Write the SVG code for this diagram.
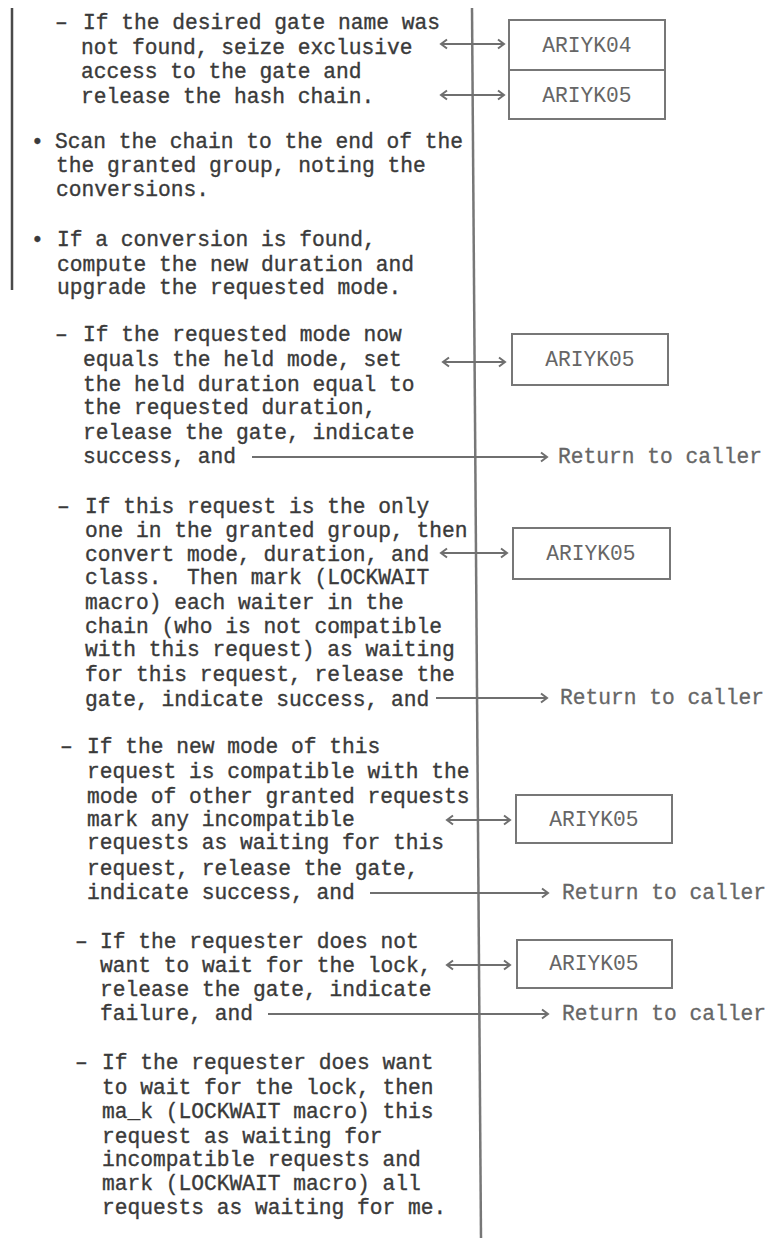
<svg xmlns="http://www.w3.org/2000/svg" width="771" height="1241" viewBox="0 0 771 1241">
  <style>
    text { white-space: pre; }
    .t { font-family: "Liberation Mono", "DejaVu Sans Mono", monospace; font-size: 21.25px; fill: #3a3a3a; stroke: #3a3a3a; stroke-width: 0.35px; }
    .bx { font-family: "Liberation Mono", "DejaVu Sans Mono", monospace; font-size: 21.25px; fill: #666; text-anchor: middle; }
    .rt { font-family: "Liberation Mono", "DejaVu Sans Mono", monospace; font-size: 21.25px; fill: #666; stroke: #666; stroke-width: 0.3px; }
    .box { fill: #fff; stroke: #777; stroke-width: 2; }
    .dbl { stroke: #6f6f6f; stroke-width: 2; fill: none; marker-start: url(#chev); marker-end: url(#chev); }
    .ret { stroke: #6f6f6f; stroke-width: 2; fill: none; marker-end: url(#chev); }
  </style>
  <defs>
    <marker id="chev" markerUnits="userSpaceOnUse" markerWidth="12" markerHeight="12" refX="9" refY="6" orient="auto-start-reverse">
      <path d="M3,1.5 L9,6 L3,10.5" fill="none" stroke="#6f6f6f" stroke-width="2"/>
    </marker>
  </defs>
  <rect width="771" height="1241" fill="#fff"/>

  <!-- spine and margin bar -->
  <g id="rules">
    <line x1="12" y1="8" x2="12" y2="290" stroke="#4a4a4a" stroke-width="2.5"/>
    <line x1="472" y1="8" x2="481" y2="1238" stroke="#777" stroke-width="2.5"/>
  </g>

  <g id="step-seize-gate">
    <text class="t" x="55" y="29">–</text>
    <text class="t" x="83" y="29">If the desired gate name was</text>
    <text class="t" x="81" y="54">not found, seize exclusive</text>
    <text class="t" x="81" y="78">access to the gate and</text>
    <text class="t" x="81" y="103">release the hash chain.</text>
  </g>

  <g id="step-scan-chain">
    <text class="t" x="31" y="148">•</text>
    <text class="t" x="55" y="148">Scan the chain to the end of the</text>
    <text class="t" x="56" y="172">the granted group, noting the</text>
    <text class="t" x="56" y="196">conversions.</text>
  </g>

  <g id="step-conversion">
    <text class="t" x="31" y="246">•</text>
    <text class="t" x="57" y="246">If a conversion is found,</text>
    <text class="t" x="57" y="271">compute the new duration and</text>
    <text class="t" x="57" y="294">upgrade the requested mode.</text>
  </g>

  <g id="case-equal-mode">
    <text class="t" x="55" y="341">–</text>
    <text class="t" x="83" y="341">If the requested mode now</text>
    <text class="t" x="83" y="366">equals the held mode, set</text>
    <text class="t" x="83" y="391">the held duration equal to</text>
    <text class="t" x="83" y="414">the requested duration,</text>
    <text class="t" x="83" y="439">release the gate, indicate</text>
    <text class="t" x="83" y="463">success, and</text>
  </g>

  <g id="case-only-request">
    <text class="t" x="57" y="513">–</text>
    <text class="t" x="85" y="513">If this request is the only</text>
    <text class="t" x="85" y="537">one in the granted group, then</text>
    <text class="t" x="85" y="561">convert mode, duration, and</text>
    <text class="t" x="85" y="584">class.  Then mark (LOCKWAIT</text>
    <text class="t" x="85" y="609">macro) each waiter in the</text>
    <text class="t" x="85" y="633">chain (who is not compatible</text>
    <text class="t" x="85" y="656">with this request) as waiting</text>
    <text class="t" x="85" y="681">for this request, release the</text>
    <text class="t" x="85" y="706">gate, indicate success, and</text>
  </g>

  <g id="case-compatible">
    <text class="t" x="60" y="753">–</text>
    <text class="t" x="87" y="753">If the new mode of this</text>
    <text class="t" x="87" y="778">request is compatible with the</text>
    <text class="t" x="87" y="803">mode of other granted requests</text>
    <text class="t" x="87" y="826">mark any incompatible</text>
    <text class="t" x="87" y="849">requests as waiting for this</text>
    <text class="t" x="87" y="875">request, release the gate,</text>
    <text class="t" x="87" y="899">indicate success, and</text>
  </g>

  <g id="case-no-wait">
    <text class="t" x="75" y="948">–</text>
    <text class="t" x="100" y="948">If the requester does not</text>
    <text class="t" x="100" y="972">want to wait for the lock,</text>
    <text class="t" x="100" y="996">release the gate, indicate</text>
    <text class="t" x="100" y="1020">failure, and</text>
  </g>

  <g id="case-wait">
    <text class="t" x="75" y="1069">–</text>
    <text class="t" x="102" y="1069">If the requester does want</text>
    <text class="t" x="102" y="1094">to wait for the lock, then</text>
    <text class="t" x="102" y="1118">ma_k (LOCKWAIT macro) this</text>
    <text class="t" x="102" y="1143">request as waiting for</text>
    <text class="t" x="102" y="1166">incompatible requests and</text>
    <text class="t" x="102" y="1190">mark (LOCKWAIT macro) all</text>
    <text class="t" x="102" y="1214">requests as waiting for me.</text>
  </g>

  <!-- module boxes -->
  <g id="box-ariyk04">
    <rect class="box" x="509" y="20" width="156" height="50"/>
    <text class="bx" x="587" y="52">ARIYK04</text>
  </g>
  <g id="box-ariyk05-a">
    <rect class="box" x="509" y="70" width="156" height="49"/>
    <text class="bx" x="587" y="102">ARIYK05</text>
  </g>
  <g id="box-ariyk05-b">
    <rect class="box" x="512" y="334" width="156" height="51"/>
    <text class="bx" x="590" y="366">ARIYK05</text>
  </g>
  <g id="box-ariyk05-c">
    <rect class="box" x="513" y="528" width="157" height="51"/>
    <text class="bx" x="591" y="560">ARIYK05</text>
  </g>
  <g id="box-ariyk05-d">
    <rect class="box" x="516" y="795" width="156" height="48"/>
    <text class="bx" x="594" y="826">ARIYK05</text>
  </g>
  <g id="box-ariyk05-e">
    <rect class="box" x="517" y="940" width="155" height="48"/>
    <text class="bx" x="594" y="970">ARIYK05</text>
  </g>

  <!-- return targets -->
  <g id="return-1"><text class="rt" x="558" y="463">Return to caller</text></g>
  <g id="return-2"><text class="rt" x="560" y="704">Return to caller</text></g>
  <g id="return-3"><text class="rt" x="562" y="899">Return to caller</text></g>
  <g id="return-4"><text class="rt" x="562" y="1020">Return to caller</text></g>

  <g id="connectors">
    <line class="dbl" x1="441" y1="44" x2="504" y2="44"/>
    <line class="dbl" x1="441" y1="95" x2="504" y2="95"/>
    <line class="dbl" x1="443" y1="362" x2="505" y2="362"/>
    <line class="ret" x1="252" y1="457" x2="547" y2="457"/>
    <line class="dbl" x1="441" y1="553" x2="507" y2="553"/>
    <line class="ret" x1="436" y1="698" x2="547" y2="698"/>
    <line class="dbl" x1="447" y1="820" x2="510" y2="820"/>
    <line class="ret" x1="370" y1="893" x2="548" y2="893"/>
    <line class="dbl" x1="447" y1="965" x2="510" y2="965"/>
    <line class="ret" x1="268" y1="1014" x2="548" y2="1014"/>
  </g>
</svg>
